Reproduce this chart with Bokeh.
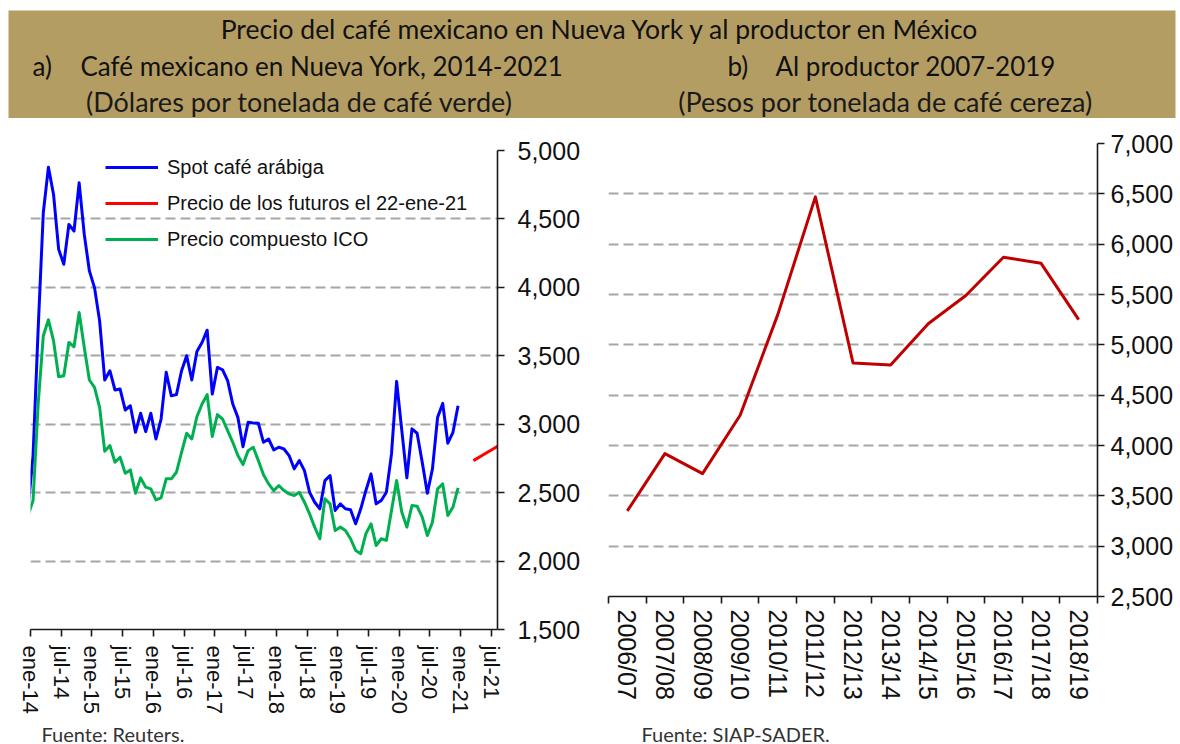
import numpy as np
from bokeh.plotting import figure
from bokeh.models import (FixedTicker, NumeralTickFormatter, Legend, LegendItem,
                          Range1d)
from bokeh.layouts import column, row
from bokeh.core.properties import value
from bokeh.embed import file_html
from bokeh.resources import INLINE

# ---------------- data ----------------
# monthly series, first value = Dec-2013 (partly outside the axis), last = Dec-2020
spot_arabica = [2372, 2771, 3700, 4545, 4878, 4679, 4278, 4169, 4460, 4412, 4764, 4387,
                4120, 3998, 3755, 3323, 3391, 3250, 3257, 3104, 3135, 2941, 3080, 2946,
                3080, 2892, 3038, 3379, 3208, 3216, 3391, 3500, 3323, 3532, 3597, 3687,
                3220, 3415, 3398, 3318, 3148, 3050, 2836, 3014, 3009, 3007, 2868, 2892,
                2812, 2832, 2819, 2771, 2674, 2734, 2661, 2503, 2430, 2382, 2588, 2625,
                2370, 2418, 2382, 2375, 2272, 2382, 2516, 2637, 2418, 2443, 2503, 2783,
                3313, 2958, 2608, 2966, 2934, 2722, 2496, 2674, 3050, 3152, 2861, 2941,
                3135]
ico_composite = [2331, 2443, 3150, 3646, 3763, 3609, 3347, 3354, 3597, 3566, 3816, 3561,
                 3323, 3269, 3123, 2802, 2844, 2722, 2759, 2642, 2666, 2496, 2608, 2540,
                 2528, 2447, 2462, 2601, 2601, 2649, 2795, 2934, 2892, 3055, 3148, 3216,
                 2910, 3070, 3038, 2953, 2868, 2771, 2705, 2807, 2832, 2734, 2630, 2564,
                 2515, 2552, 2515, 2491, 2479, 2503, 2430, 2345, 2248, 2163, 2455, 2418,
                 2224, 2248, 2224, 2163, 2078, 2054, 2200, 2272, 2114, 2163, 2151, 2370,
                 2588, 2358, 2248, 2406, 2401, 2321, 2187, 2285, 2528, 2564, 2333, 2394,
                 2535]
series_start = "2013-12"
futures_months = ["2021-03", "2021-05", "2021-07", "2021-09"]
futures_price = [2734, 2779, 2823, 2868]

x_tick_labels = ["ene-14", "jul-14", "ene-15", "jul-15", "ene-16", "jul-16", "ene-17",
                 "jul-17", "ene-18", "jul-18", "ene-19", "jul-19", "ene-20", "jul-20",
                 "ene-21", "jul-21"]

seasons = ["2006/07", "2007/08", "2008/09", "2009/10", "2010/11", "2011/12", "2012/13",
           "2013/14", "2014/15", "2015/16", "2016/17", "2017/18", "2018/19"]
producer_price = [3350, 3920, 3720, 4300, 5300, 6470, 4820, 4800, 5210, 5490, 5870,
                  5810, 5250]

# ---------------- helpers ----------------
def month_index(ym):
    y, m = ym.split("-")
    return (int(y) - 2014) * 12 + (int(m) - 1)

start_idx = month_index(series_start)
x_months = [start_idx + i + 0.5 for i in range(len(spot_arabica))]
x_fut = [month_index(m) + 0.5 for m in futures_months]

TAN = "#B49D63"
GRID = "#A6A6A6"
AX = "#1a1a1a"
AXFONT = "Liberation Sans"


def style_common(p):
    p.outline_line_color = None
    p.background_fill_color = "white"
    p.border_fill_color = "white"
    p.xgrid.visible = False
    p.ygrid.grid_line_color = GRID
    p.ygrid.grid_line_dash = "10 5"
    p.ygrid.grid_line_width = 1.8
    for ax in p.axis:
        ax.axis_line_color = AX
        ax.axis_line_width = 1.6
        ax.major_tick_line_color = AX
        ax.major_tick_line_width = 1.6
        ax.major_tick_in = 0
        ax.major_tick_out = 7
        ax.minor_tick_line_color = None
        ax.major_label_text_font = AXFONT
        ax.major_label_text_color = "#111111"


# ---------------- banner (page pixels: x right, y up from y=118) ----------------
banner = figure(width=1180, height=118, x_range=Range1d(0, 1180), y_range=Range1d(0, 118),
                min_border=0, output_backend="svg", toolbar_location=None,
                x_axis_location=None, y_axis_location=None)
banner.background_fill_color = "white"
banner.border_fill_color = "white"
banner.outline_line_color = None
banner.grid.visible = False
banner.quad(left=[8], right=[1175], bottom=[0], top=[108], fill_color=TAN, line_color=None)
banner.text(x=[600], y=[90], text=["Precio del café mexicano en Nueva York y al productor en México"],
            text_font=value("Lato"), text_font_size="26.5px", text_align="center",
            text_baseline="middle", text_color="#111111")
banner.text(x=[32, 80, 727, 775], y=[53, 53, 53, 53],
            text=["a)", "Café mexicano en Nueva York, 2014-2021", "b)", "Al productor 2007-2019"],
            text_font=value("Lato"), text_font_size="26px", text_align="left",
            text_baseline="middle", text_color="#111111")
banner.text(x=[299, 885], y=[17, 17],
            text=["(Dólares por tonelada de café verde)", "(Pesos por tonelada de café cereza)"],
            text_font=value("Lato"), text_font_size="27px", text_align="center",
            text_baseline="middle", text_color="#1a1a1a")

# ---------------- left panel ----------------
p1 = figure(width=600, height=600, x_range=Range1d(0, 91.2), y_range=Range1d(1500, 5000),
            output_backend="svg", toolbar_location=None, y_axis_location="right",
            min_border_left=30, min_border_right=103, min_border_top=32, min_border_bottom=89)
style_common(p1)
x_ticks = [month_index(f"20{lab[-2:]}-{'01' if lab.startswith('ene') else '07'}") for lab in x_tick_labels]
p1.xaxis.ticker = FixedTicker(ticks=x_ticks)
p1.xaxis.major_label_overrides = {t: lab for t, lab in zip(x_ticks, x_tick_labels)}
p1.xaxis.major_label_orientation = "vertical"
p1.xaxis.major_label_text_font_size = "22px"
p1.xaxis.major_label_standoff = 9
p1.yaxis.ticker = FixedTicker(ticks=list(range(1500, 5001, 500)))
p1.ygrid.ticker = FixedTicker(ticks=list(range(2000, 5001, 500)))
p1.yaxis.formatter = NumeralTickFormatter(format="0,0")
p1.yaxis.major_label_text_font_size = "25px"
p1.yaxis.major_label_standoff = 13

r_spot = p1.line(x_months, spot_arabica, line_color="#0000FF", line_width=3, line_join="round")
r_fut = p1.line(x_fut, futures_price, line_color="#FF0000", line_width=3, line_join="round")
r_ico = p1.line(x_months, ico_composite, line_color="#00B050", line_width=3, line_join="round")

legend = Legend(items=[LegendItem(label="Spot café arábiga", renderers=[r_spot]),
                       LegendItem(label="Precio de los futuros el 22-ene-21", renderers=[r_fut]),
                       LegendItem(label="Precio compuesto ICO", renderers=[r_ico])],
                location=(75, 378), border_line_color=None, background_fill_alpha=0,
                padding=0, margin=0, spacing=12, glyph_width=53, glyph_height=24,
                label_height=24, label_standoff=9, label_text_font=AXFONT,
                label_text_font_size="20px", label_text_color="#111111")
p1.add_layout(legend)

# ---------------- right panel ----------------
p2 = figure(width=580, height=600, x_range=Range1d(0, len(seasons)), y_range=Range1d(2500, 7000),
            output_backend="svg", toolbar_location=None, y_axis_location="right",
            min_border_left=8, min_border_right=83, min_border_top=25, min_border_bottom=122)
style_common(p2)
centers = [i + 0.5 for i in range(len(seasons))]
p2.xaxis.ticker = FixedTicker(ticks=centers, minor_ticks=list(range(len(seasons) + 1)))
p2.xaxis.major_label_overrides = {c: s for c, s in zip(centers, seasons)}
p2.xaxis.major_tick_out = 0
p2.xaxis.minor_tick_line_color = AX
p2.xaxis.minor_tick_line_width = 1.6
p2.xaxis.minor_tick_in = 0
p2.xaxis.minor_tick_out = 7
p2.xaxis.major_label_orientation = "vertical"
p2.xaxis.major_label_text_font_size = "25px"
p2.xaxis.major_label_standoff = 6
p2.yaxis.ticker = FixedTicker(ticks=list(range(2500, 7001, 500)))
p2.ygrid.ticker = FixedTicker(ticks=list(range(3000, 7001, 500)))
p2.yaxis.formatter = NumeralTickFormatter(format="0,0")
p2.yaxis.major_label_text_font_size = "25px"
p2.yaxis.major_label_standoff = 6
p2.line(centers, producer_price, line_color="#C00000", line_width=3, line_join="round")

# ---------------- footnotes ----------------
foot = figure(width=1180, height=26, x_range=Range1d(0, 1180), y_range=Range1d(0, 26),
              min_border=0, output_backend="svg", toolbar_location=None,
              x_axis_location=None, y_axis_location=None)
foot.outline_line_color = None
foot.grid.visible = False
foot.text(x=[41, 641], y=[11, 11], text=["Fuente: Reuters.", "Fuente: SIAP-SADER."],
          text_font=value("Lato"), text_font_size="20px", text_align="left",
          text_baseline="middle", text_color="#333333")

layout = column(banner, row(column(p1), column(p2)), foot)
open("out.html", "w").write(file_html(layout, INLINE))
